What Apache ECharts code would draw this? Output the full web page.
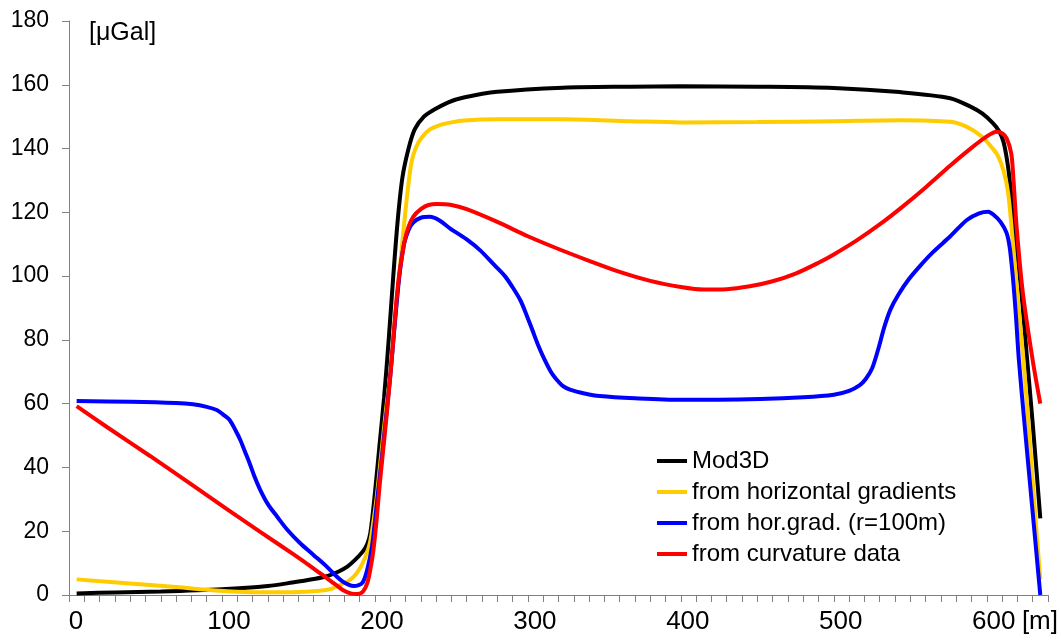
<!DOCTYPE html>
<html>
<head>
<meta charset="utf-8">
<script src="https://cdn.jsdelivr.net/npm/echarts@6/dist/echarts.min.js"></script>
<style>html,body{margin:0;padding:0;background:#fff}#c{width:1061px;height:640px}</style>
</head>
<body>
<div id="c"></div>
<script>
// Data (x in m, value in µGal)
const seriesNames = ['Mod3D', 'from horizontal gradients', 'from hor.grad. (r=100m)', 'from curvature data'];
const yTicks = [0, 20, 40, 60, 80, 100, 120, 140, 160, 180];
const xTickLabels = ['0', '100', '200', '300', '400', '500', '600', '[m]'];

const modX = [5, 30, 60, 100, 130, 146, 160, 168, 176, 182, 187, 192, 195, 197, 200, 203, 206, 209, 212, 215, 218, 222, 226, 232, 238, 248, 258, 280, 323, 367, 400, 450, 500, 543, 576, 590, 597, 604, 608, 611, 614, 617, 620, 623, 626, 630, 635];
const modY = [0.5, 0.8, 1.1, 1.8, 2.8, 3.9, 5.0, 5.8, 7.3, 8.9, 11, 13.6, 16, 19.4, 32, 47, 62, 80, 100, 118, 131, 140, 146, 150, 152, 154.5, 156, 157.8, 159.1, 159.4, 159.5, 159.4, 159.0, 157.7, 155.8, 153, 151, 148, 145.5, 142, 134, 121, 107, 93, 76, 54, 24];

const hgX = [5, 40, 70, 96, 120, 146, 164, 172, 177, 182, 186, 189, 192, 195, 197, 199, 201, 203, 205, 207, 210, 213, 216, 218, 221, 224, 227, 231, 236, 242, 250, 258, 280, 323, 367, 400, 450, 500, 543, 576, 587, 597, 603, 607, 611, 614, 617, 621, 624, 628, 632, 635];
const hgY = [4.9, 3.6, 2.5, 1.4, 0.9, 0.9, 1.3, 2.0, 3.1, 4.2, 5.7, 7.5, 10, 13.5, 17, 23, 30, 39, 48, 57, 69, 86, 101, 111, 125, 136, 140.5, 143.7, 146, 147.3, 148.2, 148.8, 149.2, 149.2, 148.6, 148.2, 148.3, 148.6, 148.9, 148.4, 146.8, 143.7, 140.5, 138, 133, 126, 111, 89, 73.7, 49, 23, 5];

const hg100X = [5, 40, 70, 81, 90, 96.6, 101, 105, 109, 112, 115, 118, 121, 125, 130, 136, 143, 151, 160, 168.5, 175, 179, 183, 186, 189, 192, 195, 198, 200, 202, 204.5, 206.6, 210, 213, 216, 219, 222, 225, 230, 236, 242, 249, 260, 269, 278, 285, 290, 295, 299, 303, 307, 311, 315, 318, 323, 328, 337, 347, 370, 400, 452, 480, 500, 510, 517, 521, 525, 529, 533, 537, 542, 549, 556, 565, 576, 587, 595, 601, 605, 609, 613, 615, 617, 619, 621, 625, 630, 635];
const hg100Y = [60.8, 60.6, 60.2, 59.8, 59.0, 58, 56.5, 54.9, 51.5, 48.6, 45, 41.4, 37.5, 33, 28.5, 24.6, 20.3, 16.3, 12.5, 8.9, 5.8, 4.2, 3.2, 2.8, 3.0, 3.9, 8, 15, 23, 32, 43, 52.8, 68.5, 85, 100, 110, 114.5, 116.8, 118.3, 118.6, 117.5, 115, 111.5, 108, 103.5, 100, 96.5, 92.5, 88, 83, 78, 73.7, 70, 68, 65.5, 64.3, 63.2, 62.4, 61.7, 61.2, 61.5, 62, 62.8, 64, 65.8, 67.8, 71, 77, 84, 89.5, 94, 99, 103, 107.6, 112.4, 117.6, 119.7, 120.2, 119, 117, 113.5, 109, 100, 88, 73.7, 52, 26, 0];

const curvX = [5, 25, 53, 80, 103, 125, 146.6, 160, 168.5, 175, 179, 184, 188, 192, 195, 197, 199, 201, 203, 205.5, 208, 210, 212, 214, 216, 218, 219.6, 222, 225, 230, 235, 240.5, 250, 260, 280, 300, 320, 340, 360, 380, 400, 415, 430, 445, 460, 475, 490, 500, 515, 530, 545, 560, 576, 590, 600, 606.4, 610, 613, 616, 617.5, 619.5, 623.6, 630, 635];
const curvY = [59.2, 52.6, 43.6, 34.7, 27, 19.8, 12.8, 8.3, 5.3, 3.0, 1.6, 0.5, 0.3, 1.0, 3.7, 8, 14, 23, 34, 46, 58, 68.5, 80, 92, 101, 107, 111.3, 115.5, 118.6, 121, 122.3, 122.6, 122.3, 121, 117, 112.5, 108.5, 104.8, 101.3, 98.5, 96.6, 95.8, 95.9, 96.8, 98.4, 100.8, 104.2, 106.8, 111.2, 116.2, 121.8, 127.8, 134.6, 140.2, 143.8, 145.3, 144.8, 143.2, 138.5, 130, 115.5, 94.7, 73.7, 60];

const colors = ['#000000', '#FFCC00', '#0000FF', '#FF0000'];

function pairs(xs, ys) { return xs.map((x, i) => [x, ys[i]]); }
const allData = [pairs(modX, modY), pairs(hgX, hgY), pairs(hg100X, hg100Y), pairs(curvX, curvY)];

const FONT = 'Arial, "Liberation Sans", sans-serif';
const chart = echarts.init(document.getElementById('c'), null, {renderer: 'canvas'});
chart.setOption({
  animation: false,
  backgroundColor: '#ffffff',
  textStyle: {fontFamily: FONT},
  title: {
    text: '[\u03bcGal]', left: 84, top: 16,
    textStyle: {fontSize: 25, fontWeight: 'normal', color: '#000', fontFamily: FONT}
  },
  grid: {left: 69, right: 13, top: 21, bottom: 45, containLabel: false},
  legend: {
    orient: 'vertical', left: 652, top: 444,
    icon: 'rect', itemWidth: 30, itemHeight: 4, itemGap: 7,
    textStyle: {fontSize: 24, color: '#000', fontFamily: FONT, lineHeight: 24, padding: [0, 0, 0, 0]},
    data: seriesNames
  },
  xAxis: {
    type: 'value', min: 0, max: 640, interval: 10,
    axisLine: {show: true, onZero: false, lineStyle: {color: '#808080', width: 1}},
    axisTick: {show: true, length: 7, lineStyle: {color: '#808080'}},
    splitLine: {show: false},
    axisLabel: {
      fontSize: 26, color: '#000', fontFamily: FONT, margin: 14, padding: [0, 0, 0, 14],
      showMinLabel: true, showMaxLabel: true,
      formatter: function (v) {
        if (v === 640) return '{u|' + xTickLabels[7] + '}';
        if (v % 100 === 0) return xTickLabels[Math.round(v / 100)];
        return '';
      },
      rich: {u: {fontSize: 26, color: '#000', fontFamily: FONT, padding: [0, 30, 0, 0]}}
    }
  },
  yAxis: {
    type: 'value', min: yTicks[0], max: yTicks[yTicks.length - 1], interval: 20,
    axisLine: {show: true, lineStyle: {color: '#808080', width: 1}},
    axisTick: {show: true, length: 7, lineStyle: {color: '#808080'}},
    splitLine: {show: false},
    axisLabel: {fontSize: 23, color: '#000', fontFamily: FONT, margin: 20}
  },
  series: seriesNames.map((name, i) => ({
    name: name, type: 'line',
    data: allData[i],
    showSymbol: false, symbol: 'none',
    smooth: 0.3,
    lineStyle: {color: colors[i], width: 4},
    itemStyle: {color: colors[i]},
    z: 2 + i
  }))
});
</script>
</body>
</html>
